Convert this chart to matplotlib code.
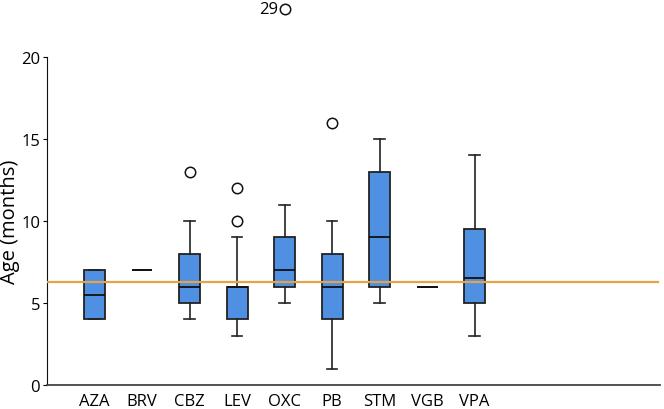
import matplotlib.pyplot as plt

plt.rcParams["font.family"] = ["Open Sans", "DejaVu Sans"]

drugs = ["AZA", "BRV", "CBZ", "LEV", "OXC", "PB", "STM", "VGB", "VPA"]
whislo = [4, 7, 4, 3, 5, 1, 5, 6, 3]
q1 = [4, 7, 5, 4, 6, 4, 6, 6, 5]
med = [5.5, 7, 6, 6, 7, 6, 9, 6, 6.5]
q3 = [7, 7, 8, 6, 9, 8, 13, 6, 9.5]
whishi = [7, 7, 10, 9, 11, 10, 15, 6, 14]
fliers = [[], [], [13], [10, 12], [], [16], [], [], []]
# outlier beyond the axis range, drawn above the plot with its value
far_drug = "OXC"
far_value = 29
overall_median = 6.3

stats = []
for i, d in enumerate(drugs):
    stats.append({"label": d, "whislo": whislo[i], "q1": q1[i], "med": med[i],
                  "q3": q3[i], "whishi": whishi[i], "fliers": fliers[i]})

fig = plt.figure(figsize=(6.64, 4.10), dpi=100)
ax = fig.add_axes([0.0708, 0.0585, 0.923, 0.80])

edge = "#222222"
ax.bxp(stats, positions=range(len(drugs)), widths=0.44, patch_artist=True,
       boxprops=dict(facecolor="#5090e2", edgecolor=edge, linewidth=1.3),
       medianprops=dict(color="#111111", linewidth=1.3),
       whiskerprops=dict(color=edge, linewidth=1.2),
       capprops=dict(color=edge, linewidth=1.2), capwidths=0.22,
       flierprops=dict(marker="o", markerfacecolor="white",
                       markeredgecolor="#111111", markersize=7.5,
                       markeredgewidth=1.1))

ax.axhline(overall_median, color="#e4a24a", linewidth=1.6, zorder=5,
           xmax=0.997)

xi = drugs.index(far_drug)
trans = ax.get_xaxis_transform()
ax.plot(xi, 1.146, marker="o", markerfacecolor="white",
        markeredgecolor="#111111", markersize=7.5, markeredgewidth=1.1,
        transform=trans, clip_on=False)
ax.text(xi - 0.13, 1.146, str(far_value), transform=trans, ha="right",
        va="center", fontsize=12)

ax.set_xlim(-1, 11.9)
ax.set_ylim(0, 20)
ax.set_yticks([0, 5, 10, 15, 20])
ax.set_ylabel("Age (months)", fontsize=14.5)
ax.yaxis.set_label_coords(-0.044, 0.5)
ax.tick_params(axis="x", length=0, labelsize=12, pad=6)
ax.tick_params(axis="y", length=3, labelsize=12, pad=2)

for s in ["top", "right"]:
    ax.spines[s].set_visible(False)
ax.spines["left"].set_color("#111111")
ax.spines["bottom"].set_color("#444444")
ax.spines["bottom"].set_linewidth(1.3)

fig.savefig("out.png", dpi=100)
